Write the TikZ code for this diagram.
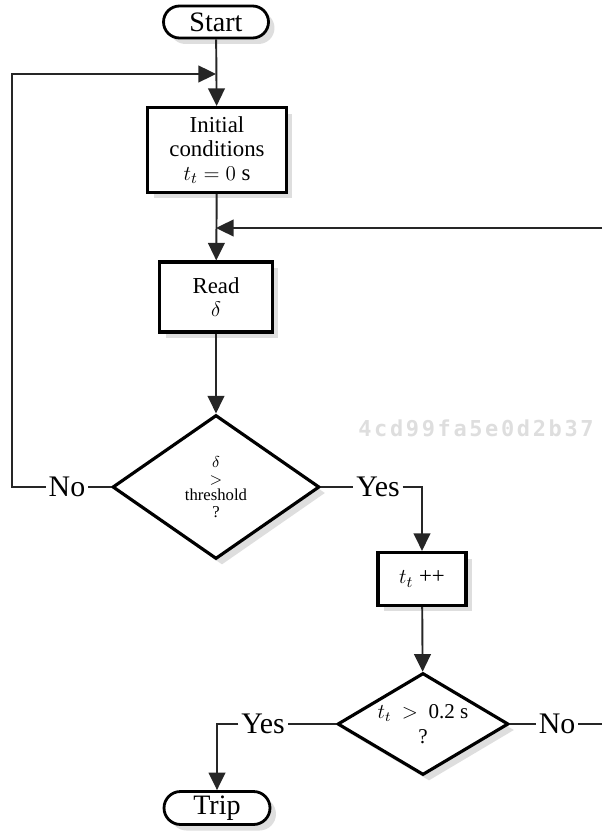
\documentclass[tikz,border=0pt]{standalone}
\usepackage{fontspec}
\setmainfont{Liberation Serif}
\newfontfamily\hashfont[LetterSpace=12]{DejaVu Sans Mono Bold}
\usetikzlibrary{shapes.geometric,shapes.misc,shadows,arrows.meta}

\begin{document}
\begin{tikzpicture}[x=0.02cm,y=-0.02cm,>={Triangle[length=10pt,width=9.5pt]}]

\tikzstyle{shade} = [drop shadow={shadow xshift=0.12cm,shadow yshift=-0.12cm,fill=black!13,opacity=1}];
\tikzstyle{term} = [rounded rectangle,draw=black,line width=1.6pt,fill=white,shade,minimum width=2.1cm,minimum height=0.64cm,inner sep=0pt,font=\fontsize{16}{16}\selectfont];
\tikzstyle{block} = [rectangle,draw=black,line width=1.8pt,fill=white,shade,align=center,inner sep=0pt,font=\fontsize{13}{13.5}\selectfont];
\tikzstyle{decision} = [diamond,draw=black,line width=1.8pt,fill=white,shade,align=center,inner sep=0pt];
\tikzstyle{lbl} = [rectangle,inner sep=1.5pt,font=\fontsize{17}{17}\selectfont];
\tikzstyle{line} = [draw=black!85,line width=1.1pt];

\useasboundingbox (0,0) rectangle (602,834);

\node[term] at (216,22) (start) {Start};

\node[block,minimum width=2.78cm,minimum height=1.7cm] at (217,150) (init) {Initial\\ conditions\\ $t_t = 0$ s};

\node[block,minimum width=2.26cm,minimum height=1.4cm] at (216,297) (read) {Read\\ $\delta$};

\node[decision,aspect=1.44,minimum width=4.14cm,minimum height=2.88cm,font=\fontsize{9.5}{9.5}\selectfont] at (216,487) (d1) {$\delta$\\ $>$\\ threshold\\ ?};

\node[lbl] at (67,487) (no1) {No};
\node[lbl] at (378,487) (yes1) {Yes};

\node[block,minimum width=1.76cm,minimum height=1.06cm] at (422,579) (inc) {$t_t$ ++};

\node[decision,aspect=1.68,minimum width=3.42cm,minimum height=2.04cm,font=\fontsize{12}{14}\selectfont] at (423,724) (d2) {$t_t$ \ $>$ \ 0.2 s\\ ?};

\node[lbl] at (263,724) (yes2) {Yes};
\node[lbl] at (557,724) (no2) {No};

\node[term,minimum width=2.12cm,minimum height=0.66cm] at (217,808) (trip) {Trip};

% joints and loose ends
\coordinate (j1) at (216,74);
\coordinate (l1) at (12,74);
\coordinate (j2) at (216,228);
\coordinate (r1) at (602,228);
\coordinate (r2) at (602,724);

\path (start) edge[line,->] (init);
\path (init) edge[line,->] (read);
\path (read) edge[line,->] (d1);

\path (d1.west) edge[line] (no1);
\draw[line,->] (no1.west) -| (l1) -- (j1);

\path (d1.east) edge[line] (yes1);
\draw[line,->] (yes1.east) -| (inc.north);

\path (inc) edge[line,->] (d2);

\path (d2.west) edge[line] (yes2);
\draw[line,->] (yes2.west) -| (trip.north);

\path (d2.east) edge[line] (no2);
\path (no2) edge[line] (r2);
\draw[line,->] (r1) -- (j2);

\node[text=black!13,font=\hashfont\fontsize{12.5}{12.5}\selectfont] at (476,428) (hash) {4cd99fa5e0d2b37};

\end{tikzpicture}
\end{document}
